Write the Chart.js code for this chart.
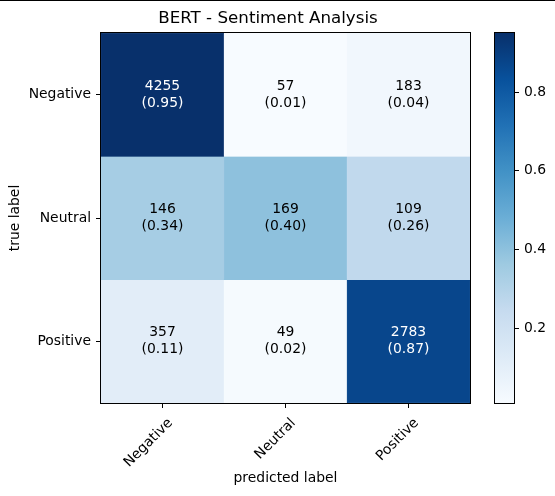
<!DOCTYPE html>
<html>
<head>
<meta charset="utf-8">
<script src="https://cdn.jsdelivr.net/npm/chart.js@4.4.1/dist/chart.umd.min.js"></script>
<style>
  body { margin: 0; background: #fff; }
  #wrap { position: relative; width: 555px; height: 496px; }
  #topline { position: absolute; left: 0; top: 0; width: 555px; height: 1px; background: #000; }
  #matrix { position: absolute; left: 0; top: 0; }
  #colorbar { position: absolute; left: 480px; top: 0; }
</style>
</head>
<body>
<div id="wrap">
  <canvas id="matrix" width="555" height="496"></canvas>
  <canvas id="colorbar" width="75" height="496"></canvas>
  <div id="topline"></div>
</div>
<script>
const chartTitle = 'BERT - Sentiment Analysis';
const trueLabels = ['Negative', 'Neutral', 'Positive'];
const predictedLabels = ['Negative', 'Neutral', 'Positive'];

// counts per true label row (columns = predicted label)
const negativeCounts = [4255, 57, 183];
const neutralCounts = [146, 169, 109];
const positiveCounts = [357, 49, 2783];

// row-normalised values shown in brackets
const negativeRatios = [0.95, 0.01, 0.04];
const neutralRatios = [0.34, 0.40, 0.26];
const positiveRatios = [0.11, 0.02, 0.87];

const colorMin = 0.01;
const colorMax = 0.95;
const colorbarTicks = [0.2, 0.4, 0.6, 0.8];

const counts = [negativeCounts, neutralCounts, positiveCounts];
const ratios = [negativeRatios, neutralRatios, positiveRatios];

const FONT = 'DejaVu Sans';

// matplotlib "Blues"
const blues = [
  [247, 251, 255], [222, 235, 247], [198, 219, 239], [158, 202, 225],
  [107, 174, 214], [66, 146, 198], [33, 113, 181], [8, 81, 156], [8, 48, 107]
];

function bluesAt(t) {
  t = Math.min(1, Math.max(0, t));
  const pos = t * (blues.length - 1);
  const i = Math.min(blues.length - 2, Math.floor(pos));
  const f = pos - i;
  const a = blues[i], b = blues[i + 1];
  const c = a.map((v, k) => Math.round(v + (b[k] - v) * f));
  return `rgb(${c[0]},${c[1]},${c[2]})`;
}

function colorFor(v) {
  return bluesAt((v - colorMin) / (colorMax - colorMin));
}

const frame = {
  id: 'frame',
  afterDraw(chart) {
    const { ctx, chartArea: a } = chart;
    ctx.save();
    ctx.strokeStyle = '#000';
    ctx.lineWidth = 1;
    const l = Math.round(a.left) - 0.5, t = Math.round(a.top) - 0.5;
    ctx.strokeRect(l, t, Math.round(a.right) - Math.round(a.left) + 1, Math.round(a.bottom) - Math.round(a.top) + 1);
    ctx.restore();
  }
};

const cellText = {
  id: 'cellText',
  afterDatasetsDraw(chart) {
    const { ctx } = chart;
    ctx.save();
    ctx.font = `13.9px "${FONT}"`;
    ctx.textAlign = 'center';
    ctx.textBaseline = 'middle';
    chart.data.datasets.forEach((ds, r) => {
      chart.getDatasetMeta(r).data.forEach((bar, c) => {
        const cy = (bar.y + bar.base) / 2;
        const v = ratios[r][c];
        ctx.fillStyle = v > colorMax / 2 ? '#fff' : '#000';
        ctx.fillText(String(counts[r][c]), bar.x, cy - 8.5);
        ctx.fillText('(' + v.toFixed(2) + ')', bar.x, cy + 8.5);
      });
    });
    ctx.restore();
  }
};

const titleText = {
  id: 'titleText',
  afterDraw(chart) {
    const { ctx } = chart;
    ctx.save();
    ctx.font = `16.7px "${FONT}"`;
    ctx.fillStyle = '#000';
    ctx.textAlign = 'center';
    ctx.textBaseline = 'middle';
    ctx.fillText(chartTitle, 268, 18.5);
    ctx.restore();
  }
};

new Chart(document.getElementById('matrix'), {
  type: 'bar',
  data: {
    labels: predictedLabels,
    datasets: trueLabels.map((name, r) => ({
      label: name,
      data: predictedLabels.map(() => [r, r + 1]),
      backgroundColor: ratios[r].map(colorFor),
      borderColor: ratios[r].map(colorFor),
      borderWidth: 0.5,
      borderSkipped: false,
      barPercentage: 1,
      categoryPercentage: 1,
      grouped: false
    }))
  },
  options: {
    responsive: false,
    animation: false,
    layout: { padding: { top: 33, right: 85, bottom: 0, left: 0 } },
    plugins: { legend: { display: false }, tooltip: { enabled: false } },
    scales: {
      x: {
        type: 'category',
        grid: { offset: false, drawOnChartArea: false, drawTicks: true, tickLength: 5, color: '#000' },
        border: { display: false },
        ticks: {
          autoSkip: false, minRotation: 45, maxRotation: 45, padding: 7, labelOffset: 8,
          color: '#000', font: { family: FONT, size: 13.9 }
        },
        title: {
          display: true, text: 'predicted label', color: '#000',
          font: { family: FONT, size: 13.9 }, padding: { top: 0, bottom: 9 }
        },
        afterFit(scale) { scale.height = 93; }
      },
      y: {
        type: 'linear',
        min: 0,
        max: 3,
        reverse: true,
        afterBuildTicks(scale) {
          scale.ticks = trueLabels.map((_, i) => ({ value: i + 0.5 }));
        },
        grid: { drawOnChartArea: false, drawTicks: true, tickLength: 5, color: '#000' },
        border: { display: false },
        ticks: {
          color: '#000', font: { family: FONT, size: 13.9 }, padding: 5,
          callback: (value) => trueLabels[Math.floor(value)]
        },
        title: {
          display: true, text: 'true label', color: '#000',
          font: { family: FONT, size: 13.9 }, padding: { top: 7, bottom: 0 }
        },
        afterFit(scale) { scale.width = 101; }
      }
    }
  },
  plugins: [cellText, frame, titleText]
});

new Chart(document.getElementById('colorbar'), {
  type: 'bar',
  data: {
    labels: ['scale'],
    datasets: [{
      data: [[colorMin, colorMax]],
      backgroundColor(context) {
        const { chart } = context;
        const a = chart.chartArea;
        if (!a) return blues[0];
        const g = chart.ctx.createLinearGradient(0, a.bottom, 0, a.top);
        blues.forEach((c, i) => g.addColorStop(i / (blues.length - 1), `rgb(${c[0]},${c[1]},${c[2]})`));
        return g;
      },
      borderWidth: 0,
      barPercentage: 1,
      categoryPercentage: 1
    }]
  },
  options: {
    responsive: false,
    animation: false,
    layout: { padding: { top: 33, right: 0, bottom: 93, left: 15 } },
    plugins: { legend: { display: false }, tooltip: { enabled: false } },
    scales: {
      x: { display: false },
      y: {
        type: 'linear',
        position: 'right',
        min: colorMin,
        max: colorMax,
        afterBuildTicks(scale) {
          scale.ticks = colorbarTicks.map(v => ({ value: v }));
        },
        grid: { drawOnChartArea: false, drawTicks: true, tickLength: 5, color: '#000' },
        border: { display: false },
        ticks: {
          color: '#000', font: { family: FONT, size: 13.9 }, padding: 5,
          callback: (value) => value.toFixed(1)
        },
        afterFit(scale) { scale.width = 41; }
      }
    }
  },
  plugins: [frame]
});
</script>
</body>
</html>
